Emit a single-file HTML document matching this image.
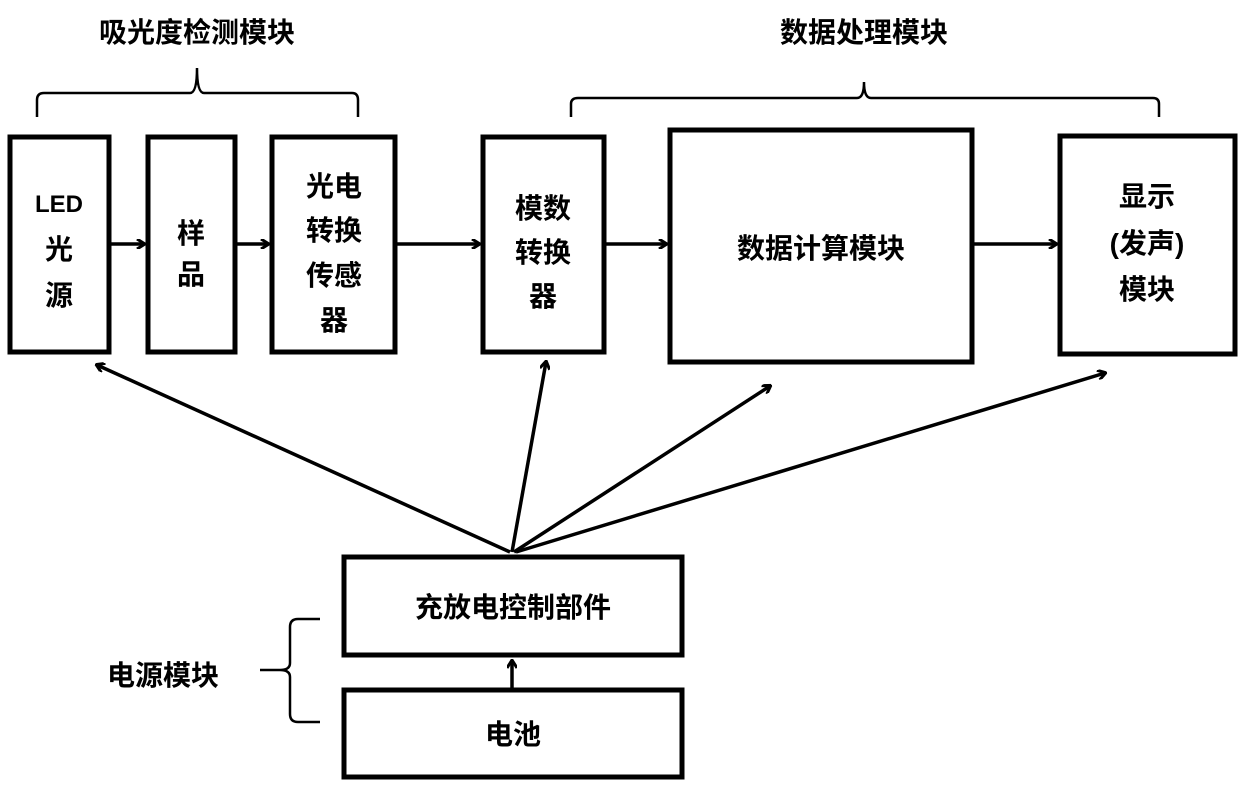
<!DOCTYPE html>
<html><head><meta charset="utf-8"><style>
body{margin:0;background:#fff;}
svg text{font-family:"Liberation Sans","Noto Sans CJK SC",sans-serif;font-weight:bold;fill:#000;}
</style></head><body>
<svg width="1240" height="789" viewBox="0 0 1240 789" xmlns="http://www.w3.org/2000/svg">
<defs><marker id="a" markerWidth="10" markerHeight="10" refX="8" refY="5" orient="auto" markerUnits="userSpaceOnUse"><path d="M1,0 L9,5 L1,10" fill="none" stroke="#000" stroke-width="3"/></marker></defs>
<g fill="none" stroke="#000" stroke-width="5">
<rect x="10" y="137" width="99" height="215"/>
<rect x="148" y="137" width="87" height="215"/>
<rect x="272" y="137" width="123" height="215"/>
<rect x="483" y="137" width="121" height="215"/>
<rect x="670" y="130" width="302" height="232"/>
<rect x="1060" y="136" width="175" height="218"/>
<rect x="344" y="557" width="338" height="98"/>
<rect x="344" y="690" width="338" height="87"/>
</g>
<g stroke="#000" stroke-width="3.5" fill="none" marker-end="url(#a)">
<line x1="111" y1="244" x2="144" y2="244"/>
<line x1="237" y1="244" x2="268" y2="244"/>
<line x1="397" y1="244" x2="479" y2="244"/>
<line x1="606" y1="244" x2="666" y2="244"/>
<line x1="974" y1="244" x2="1056" y2="244"/>
<line x1="512" y1="688" x2="512" y2="661"/>
<line x1="510" y1="552" x2="97" y2="365"/>
<line x1="512" y1="552" x2="546" y2="362"/>
<line x1="514" y1="552" x2="770" y2="386"/>
<line x1="516" y1="552" x2="1105" y2="373"/>
</g>
<g stroke="#000" stroke-width="2.5" fill="none">
<path d="M37,117 L37,100 Q37,93 44,93 L190,93 Q197,93 197,68 Q197,93 204,93 L352,93 Q358,93 358,100 L358,117"/>
<path d="M571,117 L571,104 Q571,98 578,98 L857,98 Q864,98 864,82 Q864,98 871,98 L1153,98 Q1159,98 1159,104 L1159,117"/>
<path d="M320,619 L298,619 Q290,619 290,627 L290,663 Q290,670 280,670 L260,670 L280,670 Q290,670 290,677 L290,714 Q290,722 298,722 L320,722"/>
</g>
<g font-size="28" text-anchor="middle">
<text x="197" y="42">吸光度检测模块</text>
<text x="864" y="42">数据处理模块</text>
<text x="59" y="212" font-size="24">LED</text>
<text x="59" y="259">光</text>
<text x="59" y="305">源</text>
<text x="191" y="243">样</text>
<text x="191" y="284">品</text>
<text x="334" y="196">光电</text>
<text x="334" y="240">转换</text>
<text x="334" y="285">传感</text>
<text x="334" y="330">器</text>
<text x="543" y="218">模数</text>
<text x="543" y="262">转换</text>
<text x="543" y="306">器</text>
<text x="821" y="258">数据计算模块</text>
<text x="1147" y="206">显示</text>
<text x="1147" y="253">(发声)</text>
<text x="1147" y="299">模块</text>
<text x="513" y="617">充放电控制部件</text>
<text x="513" y="744">电池</text>
<text x="163" y="685">电源模块</text>
</g>
</svg>
</body></html>
